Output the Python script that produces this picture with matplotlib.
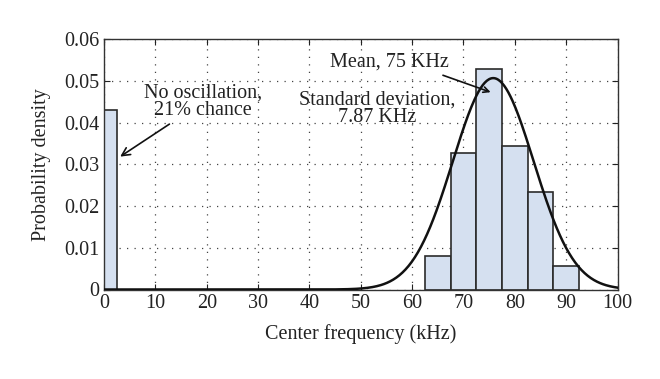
import numpy as np
import matplotlib.pyplot as plt

# histogram bins (center kHz) and probability density
bin_centers = [0, 65, 70, 75, 80, 85, 90]
densities = [0.043, 0.008, 0.0328, 0.0528, 0.0345, 0.0233, 0.0057]
bin_width = 5

# fitted normal curve parameters
mean_khz = 75.8
std_khz = 7.87

x_ticks = [0, 10, 20, 30, 40, 50, 60, 70, 80, 90, 100]
y_ticks = [0, 0.01, 0.02, 0.03, 0.04, 0.05, 0.06]

plt.rcParams['font.family'] = ['Liberation Serif', 'DejaVu Serif']

fig = plt.figure(figsize=(6.6, 3.79), dpi=100)
ax = fig.add_axes([104 / 660, 1 - 289.5 / 379, 513.5 / 660, 250.2 / 379])

ax.bar(bin_centers, densities, width=bin_width, color='#d5e0f0',
       edgecolor='#2b2b2b', linewidth=1.2, zorder=2)

xs = np.linspace(0, 100, 500)
pdf = np.exp(-0.5 * ((xs - mean_khz) / std_khz) ** 2) / (std_khz * np.sqrt(2 * np.pi))
ax.plot(xs, pdf, color='#111111', linewidth=1.8, zorder=3)

ax.set_xlim(0, 100)
ax.set_ylim(0, 0.06)
ax.set_xticks(x_ticks)
ax.set_yticks(y_ticks)
ax.set_yticklabels(['0' if v == 0 else f'{v:.2f}' for v in y_ticks])
ax.tick_params(direction='in', top=True, right=True, labelsize=14.5, length=4,
               colors='#222222')
ax.grid(True, linestyle=(0, (1, 5)), color='#444444', linewidth=0.9, zorder=0)
for s in ax.spines.values():
    s.set_color('#333333')
    s.set_linewidth(1.0)

ax.set_xlabel('Center frequency (kHz)', fontsize=14.5, color='#222222', labelpad=8)
ax.set_ylabel('Probability density', fontsize=14.5, color='#222222', labelpad=9)

arrow = dict(arrowstyle='->', color='#111111', lw=1.2)
ax.annotate('No oscillation,\n21% chance', xy=(2.7, 0.0315), xytext=(19.3, 0.045),
            ha='center', va='center', fontsize=14.5, linespacing=0.85,
            arrowprops=arrow, color='#222222')
ax.annotate('', xy=(75.8, 0.0471), xytext=(65.5, 0.0516), arrowprops=arrow)
ax.text(55.5, 0.0546, 'Mean, 75 KHz', ha='center', va='center', fontsize=14.5,
        color='#222222')
ax.text(53.2, 0.0433, 'Standard deviation,\n7.87 KHz', ha='center', va='center',
        fontsize=14.5, linespacing=0.85, color='#222222')

plt.savefig('out.png', dpi=100)
